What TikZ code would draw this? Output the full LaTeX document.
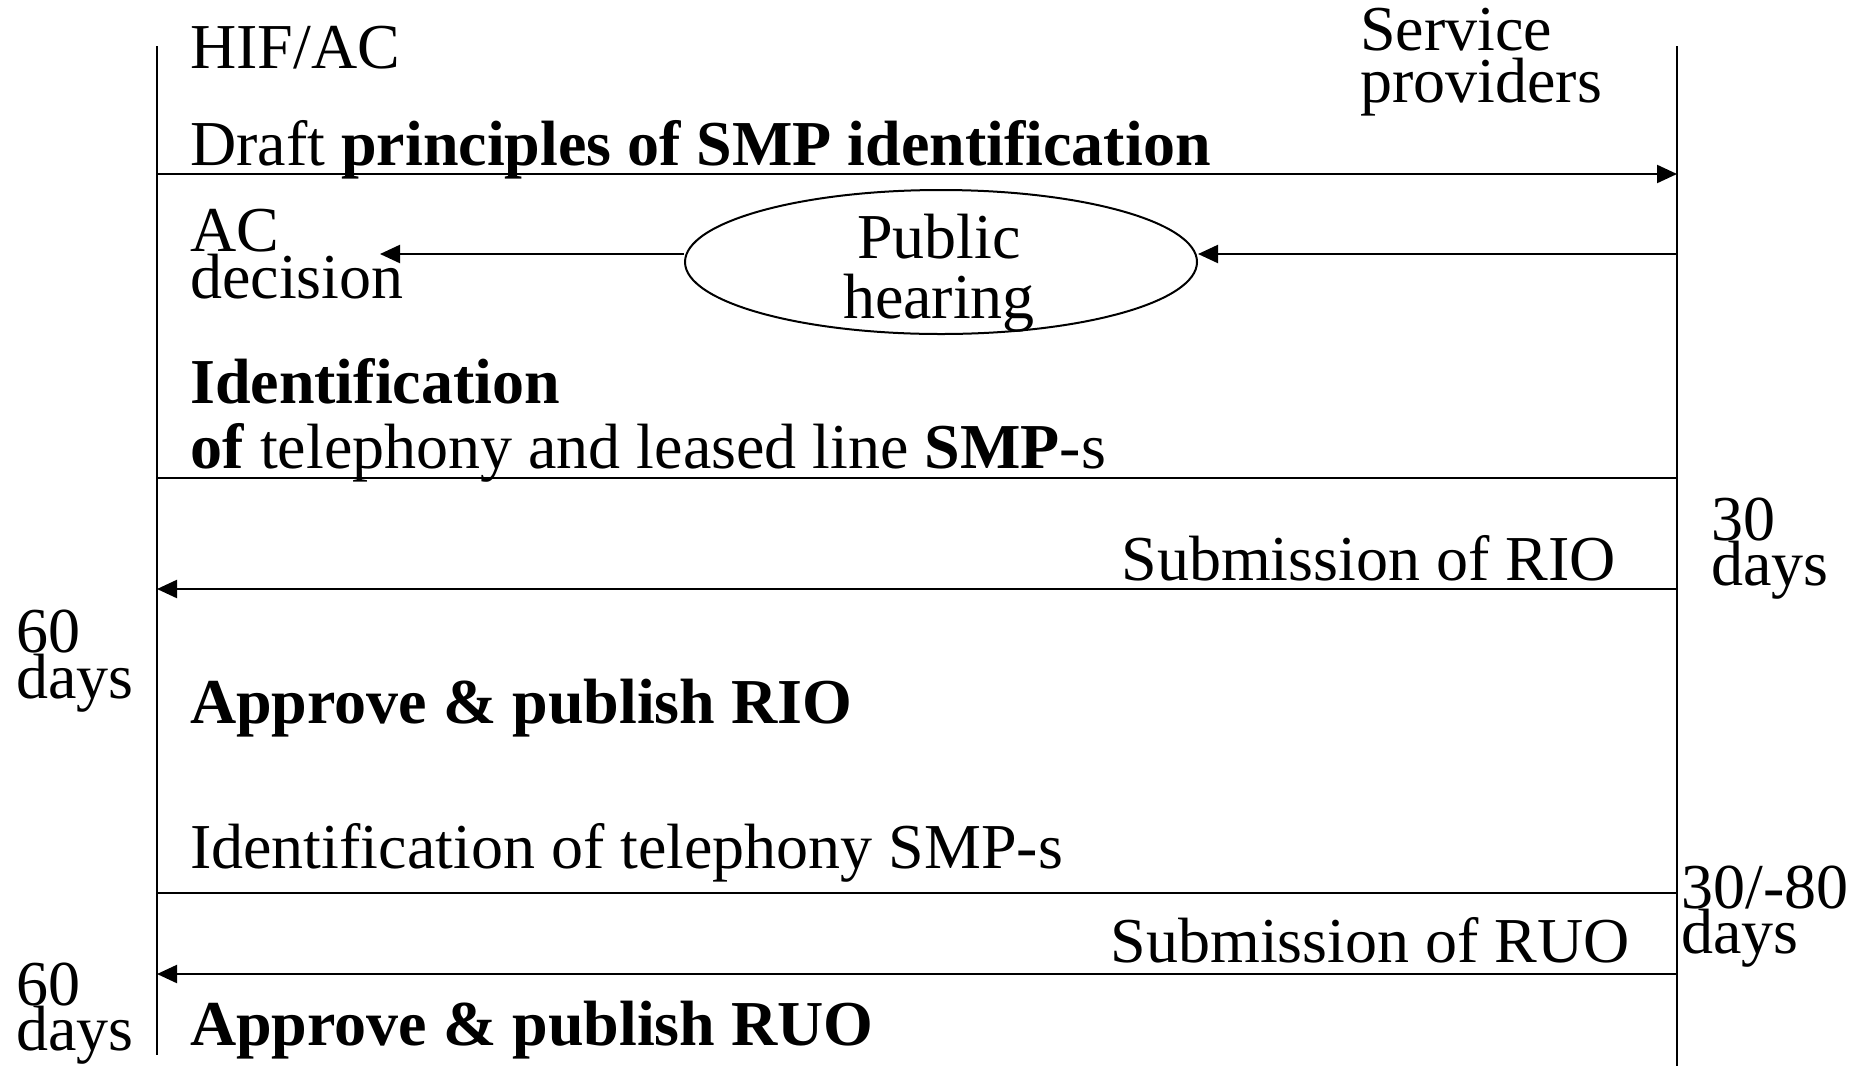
\documentclass[tikz,border=0pt]{standalone}
\usepackage{fontspec}
\setmainfont{Liberation Serif}
\usetikzlibrary{arrows.meta,shapes.geometric}
\begin{document}
\begin{tikzpicture}[x=1pt,y=-1pt,
  lbl/.style={inner sep=0pt, anchor=base west, font=\fontsize{64}{70}\selectfont},
  lblr/.style={lbl, anchor=base east},
  lblc/.style={lbl, anchor=base},
  lifeline/.style={line width=2.2pt},
  divider/.style={line width=2.2pt},
  msg/.style={line width=2.2pt, -{Triangle[length=20pt,width=18pt]}},
]
\useasboundingbox (0,0) rectangle (1867,1066);

% lifelines of the two parties
\coordinate (Ltop) at (157,46);
\coordinate (Lbot) at (157,1055);
\coordinate (Rtop) at (1677,46);
\coordinate (Rbot) at (1677,1066);
\draw[lifeline] (Ltop) -- (Lbot);
\draw[lifeline] (Rtop) -- (Rbot);

% party names
\node[lbl] (hifac) at (190,68) {HIF/AC};
\node[lbl] (svc1) at (1360,50) {Service};
\node[lbl] (svc2) at (1360,102) {providers};

% draft principles sent to the service providers
\node[lbl] (draft) at (190,165) {Draft \textbf{principles of SMP identification}};
\coordinate (m1L) at (157,174);
\coordinate (m1R) at (1677,174);
\draw[msg] (m1L) -- (m1R);

% public hearing
\node[ellipse, draw, line width=2pt, minimum width=512pt, minimum height=144pt, inner sep=0pt] (hearing) at (941,262) {};
\node[lblc] (pub1) at (939,258) {Public};
\node[lblc] (pub2) at (939,318) {hearing};
\coordinate (m2R) at (1677,254);
\draw[msg] (m2R) -- (m2R -| hearing.east);
\coordinate (acTip) at (380,254);
\draw[msg] (acTip -| hearing.west) -- (acTip);
\node[lbl] (ac1) at (190,251) {AC};
\node[lbl] (ac2) at (190,298) {decision};

% identification of SMP-s
\node[lbl] (id1) at (190,403) {\textbf{Identification}};
\node[lbl] (id2) at (190,468) {\textbf{of} telephony and leased line \textbf{SMP}-s};
\coordinate (s1L) at (157,478);
\coordinate (s1R) at (1677,478);
\draw[divider] (s1L) -- (s1R);

% reference interconnection offer
\node[lbl] (d30a) at (1711,540) {30};
\node[lbl] (d30b) at (1711,585) {days};
\node[lblr] (subrio) at (1616,580) {Submission of RIO};
\coordinate (m3R) at (1677,589);
\coordinate (m3L) at (157,589);
\draw[msg] (m3R) -- (m3L);
\node[lbl] (d60a) at (16,652) {60};
\node[lbl] (d60b) at (16,698) {days};
\node[lbl] (apprio) at (190,723) {\textbf{Approve \& publish RIO}};

% telephony SMP-s
\node[lbl] (idtel) at (190,868) {Identification of telephony SMP-s};
\coordinate (s2L) at (157,893);
\coordinate (s2R) at (1677,893);
\draw[divider] (s2L) -- (s2R);

% reference unbundling offer
\node[lbl] (d3080a) at (1681,908) {30/-80};
\node[lbl] (d3080b) at (1681,953) {days};
\node[lblr] (subruo) at (1630,962) {Submission of RUO};
\coordinate (m4R) at (1677,974);
\coordinate (m4L) at (157,974);
\draw[msg] (m4R) -- (m4L);
\node[lbl] (d60c) at (16,1005) {60};
\node[lbl] (d60d) at (16,1050) {days};
\node[lbl] (appruo) at (190,1045) {\textbf{Approve \& publish RUO}};
\end{tikzpicture}
\end{document}
